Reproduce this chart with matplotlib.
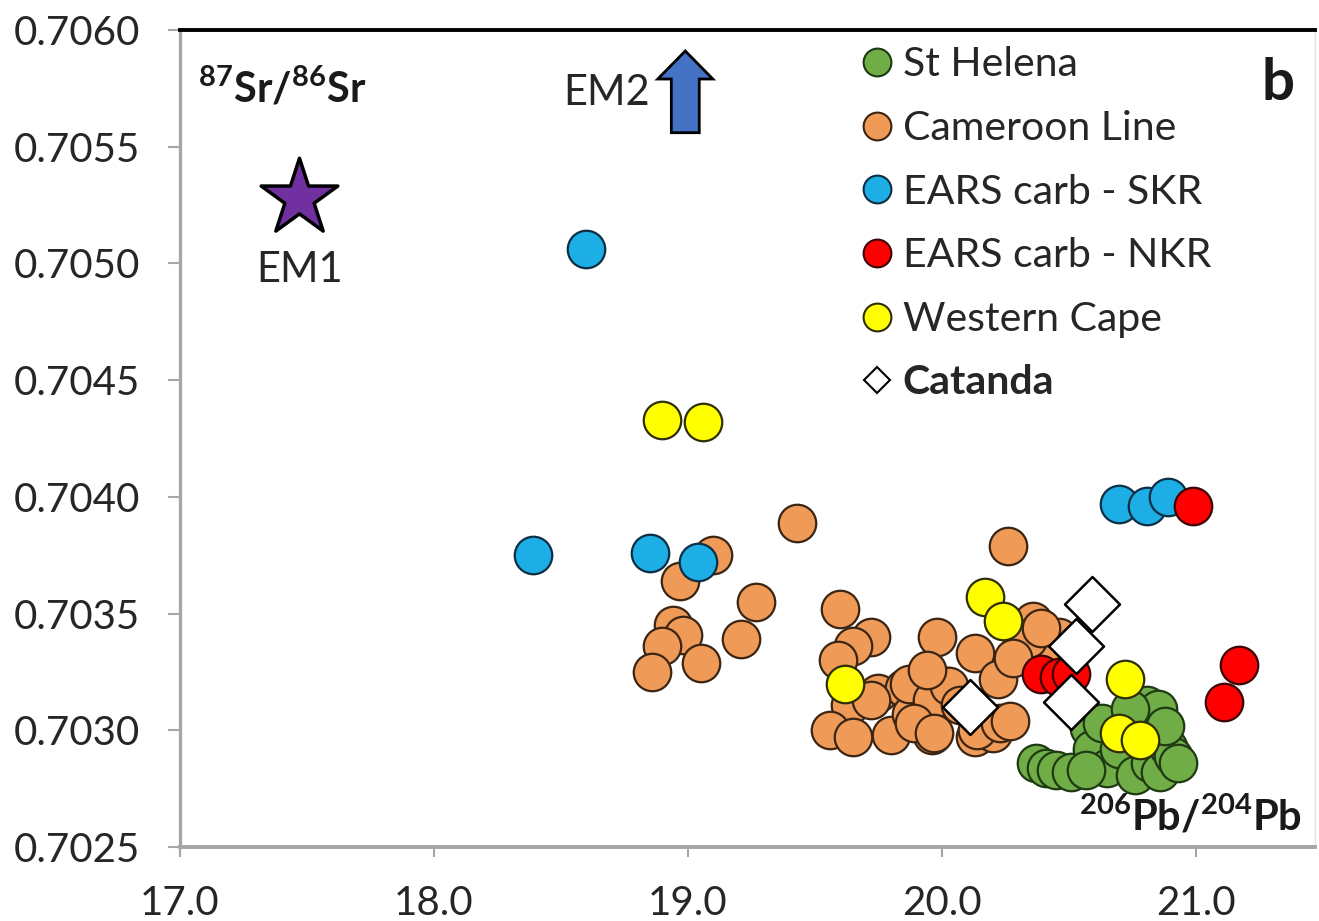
import numpy as np
import matplotlib
matplotlib.use("Agg")
import matplotlib.pyplot as plt
from matplotlib.lines import Line2D
from matplotlib.patches import FancyArrow

plt.rcParams['font.family'] = ['Lato', 'DejaVu Sans']
plt.rcParams['mathtext.fontset'] = 'custom'
plt.rcParams['mathtext.rm'] = 'Lato'
plt.rcParams['mathtext.bf'] = 'Lato:bold'

# %% data (206Pb/204Pb, 87Sr/86Sr)
helena_pb = [20.37, 20.41, 20.45, 20.51, 20.58, 20.59, 20.65, 20.70, 20.76, 20.81, 20.82,
             20.86, 20.89, 20.91, 20.93, 20.81, 20.85, 20.63, 20.74, 20.57, 20.88]
helena_sr = [0.70286, 0.70284, 0.70283, 0.70282, 0.70301, 0.70292, 0.70284, 0.70292, 0.70281, 0.70297, 0.70286,
             0.70282, 0.70293, 0.70289, 0.70286, 0.70311, 0.70309, 0.70303, 0.70309, 0.70283, 0.70302]

cameroon_pb = [19.43, 19.10, 18.97, 19.27, 19.60, 19.21, 18.94, 18.98, 18.90, 19.05, 18.86,
               19.72, 19.65, 19.59, 19.75, 19.85, 19.64, 19.56, 19.65, 19.80, 19.88, 19.96,
               19.98, 20.13, 20.02, 20.22, 20.13, 20.20, 20.26, 20.36, 20.38, 20.30, 19.87,
               19.96, 20.03, 19.89, 19.97, 20.14, 20.23, 20.27, 20.46, 20.42, 20.34, 20.39,
               20.28, 19.72, 20.07, 19.94]
cameroon_sr = [0.70389, 0.70375, 0.70364, 0.70355, 0.70352, 0.70339, 0.70345, 0.70341, 0.70336, 0.70329, 0.70325,
               0.70340, 0.70336, 0.70330, 0.70316, 0.70318, 0.70311, 0.70300, 0.70297, 0.70298, 0.70307, 0.70298,
               0.70340, 0.70333, 0.70319, 0.70322, 0.70297, 0.70299, 0.70379, 0.70347, 0.70342, 0.70333, 0.70320,
               0.70313, 0.70319, 0.70303, 0.70299, 0.70300, 0.70303, 0.70304, 0.70340, 0.70330, 0.70339, 0.70344,
               0.70331, 0.70313, 0.70311, 0.70326]

skr_pb = [18.60, 18.39, 18.85, 19.04, 20.70, 20.81, 20.89]
skr_sr = [0.70506, 0.70375, 0.70376, 0.70372, 0.70397, 0.70396, 0.70400]

nkr_pb = [20.99, 21.17, 21.11, 20.39, 20.46, 20.51]
nkr_sr = [0.70396, 0.70328, 0.70312, 0.70324, 0.70323, 0.70324]

cape_pb = [18.90, 19.06, 19.62, 20.17, 20.24, 20.72, 20.70, 20.78]
cape_sr = [0.70433, 0.70432, 0.70320, 0.70357, 0.70347, 0.70322, 0.70299, 0.70296]

catanda_pb = [20.59, 20.53, 20.51, 20.11]
catanda_sr = [0.70354, 0.70336, 0.70312, 0.70310]

em1_pb, em1_sr = 17.47, 0.70528

series = [
    ("St Helena", helena_pb, helena_sr, '#70AD47', '#1E3A12'),
    ("Cameroon Line", cameroon_pb, cameroon_sr, '#F09A58', '#3A2412'),
    ("EARS carb - SKR", skr_pb, skr_sr, '#1CAEE4', '#0B2E45'),
    ("EARS carb - NKR", nkr_pb, nkr_sr, '#FF0000', '#3A0505'),
    ("Western Cape", cape_pb, cape_sr, '#FFFF00', '#2E2E05'),
]

# %% figure
fig = plt.figure(figsize=(13.19, 9.21), dpi=100)
ax = fig.add_axes([180 / 1319, 1 - 847 / 921, 1135 / 1319, 817 / 921])

for name, xs, ys, fc, ec in series:
    ax.scatter(xs, ys, s=27 ** 2, c=fc, edgecolors=ec, linewidths=1.6, zorder=3)

ax.scatter(catanda_pb, catanda_sr, marker='D', s=28 ** 2, c='white', edgecolors='black',
           linewidths=1.8, zorder=4)

ax.scatter([em1_pb], [em1_sr], marker='*', s=58 ** 2, c='#7030A0', edgecolors='black',
           linewidths=2.5, zorder=4)
ax.text(em1_pb, 0.704972, "EM1", ha='center', va='center', fontsize=30, color='#262626')

# EM2 arrow
ax.add_patch(FancyArrow(18.99, 0.70556, 0, 0.00035, width=0.11, head_width=0.217,
                        head_length=0.00012, length_includes_head=True,
                        fc='#4472C4', ec='black', lw=2, zorder=5))
ax.text(18.85, 0.70573, "EM2", ha='right', va='center', fontsize=30, color='#262626')

ax.text(17.07, 0.70575, r'$\mathbf{^{87}Sr/^{86}Sr}$', ha='left', va='center',
        fontsize=30, color='#1a1a1a')
ax.text(21.42, 0.702572, r'$\mathbf{^{206}Pb/^{204}Pb}$', ha='right', va='baseline',
        fontsize=30, color='#1a1a1a')
ax.text(21.323, 0.70577, "b", ha='center', va='center', fontsize=42,
        fontweight='bold', color='#1a1a1a')

# axes styling
ax.set_xlim(17.0, 21.47)
ax.set_ylim(0.7025, 0.7060)
ax.set_xticks([17, 18, 19, 20, 21])
ax.set_xticklabels(["17.0", "18.0", "19.0", "20.0", "21.0"])
ax.set_yticks(np.arange(0.7025, 0.70601, 0.0005))
ax.set_yticklabels(["%.4f" % v for v in np.arange(0.7025, 0.70601, 0.0005)])

ax.spines['top'].set_color('black')
ax.spines['top'].set_linewidth(2.8)
ax.spines['left'].set_color('#A6A6A6')
ax.spines['left'].set_linewidth(2.4)
ax.spines['bottom'].set_color('#A6A6A6')
ax.spines['bottom'].set_linewidth(2.8)
ax.spines['right'].set_color('#E0E0E0')
ax.spines['right'].set_linewidth(1)

ax.tick_params(axis='y', direction='out', length=9, width=1.5, color='#A6A6A6',
               labelsize=29, labelcolor='#262626', pad=20)
ax.tick_params(axis='x', direction='out', length=7, width=1.5, color='#A6A6A6',
               labelsize=29, labelcolor='#262626', pad=20)

# legend
handles = []
for name, xs, ys, fc, ec in series:
    handles.append(Line2D([], [], ls='none', marker='o', ms=20, mfc=fc, mec=ec, mew=1.5))
handles.append(Line2D([], [], ls='none', marker='D', ms=13, mfc='white', mec='black', mew=1.5))
labels = [s[0] for s in series] + ["Catanda"]
leg = ax.legend(handles, labels, loc='upper left', bbox_to_anchor=(0.6026, 0.980),
                frameon=False, fontsize=29.5, handlelength=0.65, handletextpad=0.3,
                labelspacing=0.65, borderpad=0, borderaxespad=0)
for t in leg.get_texts():
    t.set_color('#262626')
leg.get_texts()[-1].set_fontweight('bold')

fig.savefig("out.png", dpi=100, facecolor='white')
